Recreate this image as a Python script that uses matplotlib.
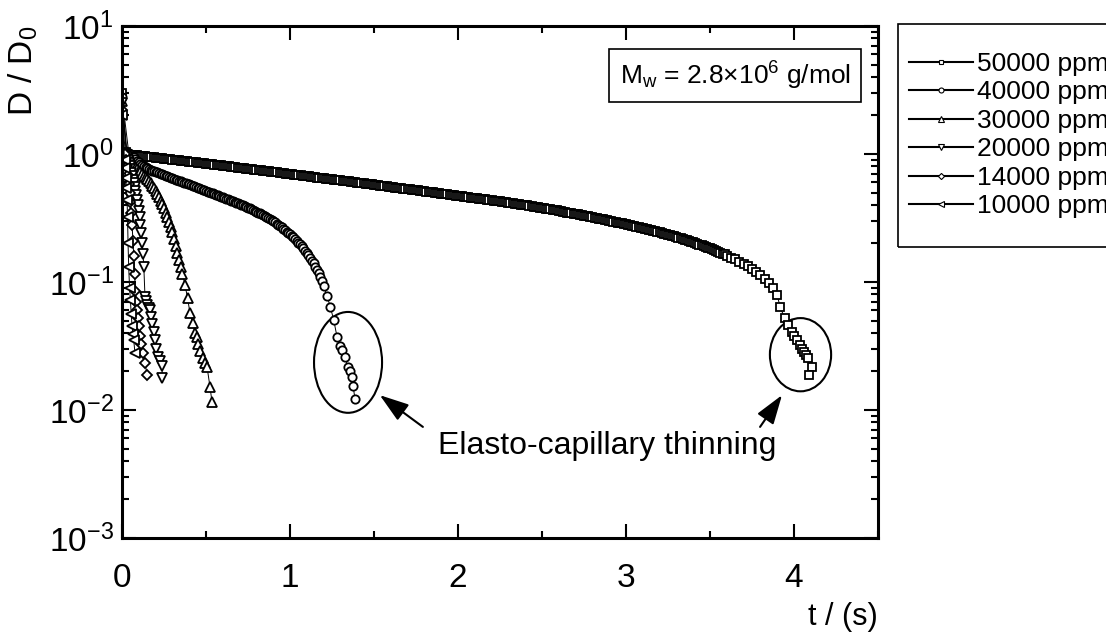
import matplotlib
matplotlib.use("Agg")
import matplotlib.pyplot as plt
from matplotlib.patches import Ellipse, Rectangle
from matplotlib.ticker import LogLocator, MultipleLocator

plt.rcParams["font.family"] = ["Liberation Sans", "DejaVu Sans"]
plt.rcParams["mathtext.fontset"] = "custom"
plt.rcParams["mathtext.rm"] = "Liberation Sans"
plt.rcParams["mathtext.it"] = "Liberation Sans:italic"
plt.rcParams["mathtext.bf"] = "Liberation Sans:bold"
plt.rcParams["axes.unicode_minus"] = False

# filament diameter D/D0 against time, one series per concentration
t_50000 = [
    0.0000, 0.0250,
    0.0500, 0.0625, 0.0750, 0.0875, 0.1000, 0.1125, 0.1250, 0.1375, 0.1500, 0.1625,
    0.1750, 0.1875, 0.2000, 0.2125, 0.2250, 0.2375, 0.2500, 0.2625, 0.2750, 0.2875,
    0.3000, 0.3125, 0.3250, 0.3375, 0.3500, 0.3625, 0.3750, 0.3875, 0.4000, 0.4125,
    0.4250, 0.4375, 0.4500, 0.4625, 0.4750, 0.4875, 0.5000, 0.5125, 0.5250, 0.5375,
    0.5500, 0.5625, 0.5750, 0.5875, 0.6000, 0.6125, 0.6250, 0.6375, 0.6500, 0.6625,
    0.6750, 0.6875, 0.7000, 0.7125, 0.7250, 0.7375, 0.7500, 0.7625, 0.7750, 0.7875,
    0.8000, 0.8125, 0.8250, 0.8375, 0.8500, 0.8625, 0.8750, 0.8875, 0.9000, 0.9125,
    0.9250, 0.9375, 0.9500, 0.9625, 0.9750, 0.9875, 1.0000, 1.0125, 1.0250, 1.0375,
    1.0500, 1.0625, 1.0750, 1.0875, 1.1000, 1.1125, 1.1250, 1.1375, 1.1500, 1.1625,
    1.1750, 1.1875, 1.2000, 1.2125, 1.2250, 1.2375, 1.2500, 1.2625, 1.2750, 1.2875,
    1.3000, 1.3125, 1.3250, 1.3375, 1.3500, 1.3625, 1.3750, 1.3875, 1.4000, 1.4125,
    1.4250, 1.4375, 1.4500, 1.4625, 1.4750, 1.4875, 1.5000, 1.5125, 1.5250, 1.5375,
    1.5500, 1.5625, 1.5750, 1.5875, 1.6000, 1.6125, 1.6250, 1.6375, 1.6500, 1.6625,
    1.6750, 1.6875, 1.7000, 1.7125, 1.7250, 1.7375, 1.7500, 1.7625, 1.7750, 1.7875,
    1.8000, 1.8125, 1.8250, 1.8375, 1.8500, 1.8625, 1.8750, 1.8875, 1.9000, 1.9125,
    1.9250, 1.9375, 1.9500, 1.9625, 1.9750, 1.9875, 2.0000, 2.0125, 2.0250, 2.0375,
    2.0500, 2.0625, 2.0750, 2.0875, 2.1000, 2.1125, 2.1250, 2.1375, 2.1500, 2.1625,
    2.1750, 2.1875, 2.2000, 2.2125, 2.2250, 2.2375, 2.2500, 2.2625, 2.2750, 2.2875,
    2.3000, 2.3125, 2.3250, 2.3375, 2.3500, 2.3625, 2.3750, 2.3875, 2.4000, 2.4125,
    2.4250, 2.4375, 2.4500, 2.4625, 2.4750, 2.4875, 2.5000, 2.5125, 2.5250, 2.5375,
    2.5500, 2.5625, 2.5750, 2.5875, 2.6000, 2.6125, 2.6250, 2.6375, 2.6500, 2.6625,
    2.6750, 2.6875, 2.7000, 2.7125, 2.7250, 2.7375, 2.7500, 2.7625, 2.7750, 2.7875,
    2.8000, 2.8125, 2.8250, 2.8375, 2.8500, 2.8625, 2.8750, 2.8875, 2.9000, 2.9125,
    2.9250, 2.9375, 2.9500, 2.9625, 2.9750, 2.9875, 3.0000, 3.0125, 3.0250, 3.0375,
    3.0500, 3.0625, 3.0750, 3.0875, 3.1000, 3.1125, 3.1250, 3.1375, 3.1500, 3.1625,
    3.1750, 3.1875, 3.2000, 3.2125, 3.2250, 3.2375, 3.2500, 3.2625, 3.2750, 3.2875,
    3.3000, 3.3125, 3.3250, 3.3375, 3.3500, 3.3625, 3.3750, 3.3875, 3.4000, 3.4125,
    3.4250, 3.4375, 3.4500, 3.4625, 3.4750, 3.4875, 3.5000, 3.5125, 3.5250, 3.5375,
    3.5500, 3.5625, 3.5750, 3.5875, 3.6000,
    3.625, 3.650, 3.675, 3.700, 3.725, 3.750, 3.775, 3.800, 3.825, 3.850,
    3.875, 3.900, 3.917, 3.945, 3.965, 3.986, 4.000, 4.016, 4.036, 4.048,
    4.060, 4.072, 4.085, 4.105, 4.090,
]
d_50000 = [
    3.000, 1.030,
    0.989, 0.985, 0.980, 0.976, 0.971, 0.967, 0.963, 0.959, 0.954, 0.950,
    0.945, 0.941, 0.937, 0.933, 0.928, 0.924, 0.920, 0.916, 0.912, 0.908,
    0.903, 0.899, 0.895, 0.891, 0.887, 0.883, 0.879, 0.875, 0.871, 0.867,
    0.863, 0.859, 0.855, 0.851, 0.847, 0.844, 0.840, 0.836, 0.832, 0.829,
    0.825, 0.821, 0.817, 0.814, 0.810, 0.806, 0.802, 0.799, 0.795, 0.792,
    0.788, 0.784, 0.780, 0.777, 0.773, 0.770, 0.766, 0.763, 0.759, 0.756,
    0.752, 0.749, 0.745, 0.742, 0.738, 0.735, 0.731, 0.728, 0.724, 0.721,
    0.717, 0.714, 0.710, 0.707, 0.703, 0.700, 0.697, 0.694, 0.690, 0.687,
    0.684, 0.681, 0.677, 0.674, 0.671, 0.668, 0.664, 0.661, 0.658, 0.655,
    0.652, 0.649, 0.645, 0.642, 0.639, 0.636, 0.633, 0.630, 0.627, 0.624,
    0.621, 0.619, 0.616, 0.613, 0.610, 0.607, 0.604, 0.601, 0.598, 0.595,
    0.592, 0.589, 0.586, 0.583, 0.580, 0.578, 0.575, 0.572, 0.569, 0.567,
    0.564, 0.561, 0.558, 0.556, 0.553, 0.550, 0.547, 0.545, 0.542, 0.540,
    0.537, 0.534, 0.531, 0.529, 0.526, 0.524, 0.521, 0.519, 0.516, 0.514,
    0.511, 0.509, 0.506, 0.504, 0.501, 0.499, 0.496, 0.494, 0.491, 0.489,
    0.486, 0.484, 0.481, 0.479, 0.476, 0.474, 0.471, 0.469, 0.467, 0.465,
    0.462, 0.460, 0.457, 0.455, 0.453, 0.451, 0.448, 0.446, 0.444, 0.442,
    0.440, 0.438, 0.435, 0.433, 0.430, 0.428, 0.426, 0.424, 0.421, 0.419,
    0.416, 0.414, 0.412, 0.410, 0.407, 0.405, 0.402, 0.400, 0.398, 0.396,
    0.393, 0.391, 0.388, 0.386, 0.383, 0.381, 0.379, 0.377, 0.374, 0.372,
    0.369, 0.367, 0.364, 0.362, 0.359, 0.357, 0.354, 0.352, 0.349, 0.347,
    0.344, 0.342, 0.339, 0.337, 0.335, 0.333, 0.330, 0.328, 0.325, 0.323,
    0.320, 0.318, 0.315, 0.313, 0.311, 0.309, 0.306, 0.304, 0.301, 0.299,
    0.296, 0.294, 0.291, 0.289, 0.287, 0.285, 0.282, 0.280, 0.277, 0.275,
    0.272, 0.270, 0.268, 0.266, 0.263, 0.261, 0.258, 0.256, 0.253, 0.251,
    0.249, 0.247, 0.244, 0.242, 0.239, 0.237, 0.234, 0.232, 0.229, 0.227,
    0.224, 0.222, 0.219, 0.217, 0.214, 0.212, 0.209, 0.207, 0.204, 0.202,
    0.199, 0.196, 0.193, 0.191, 0.188, 0.186, 0.183, 0.180, 0.177, 0.175,
    0.172, 0.169, 0.166, 0.164, 0.161,
    0.155, 0.150, 0.144, 0.138, 0.133, 0.127, 0.120, 0.114, 0.106, 0.098,
    0.089, 0.079, 0.064, 0.052, 0.046, 0.041, 0.038, 0.035, 0.032, 0.030,
    0.0286, 0.027, 0.0253, 0.0218, 0.0188,
]

t_40000 = [
    0.00,
    0.04, 0.05, 0.06, 0.07, 0.08, 0.09, 0.10, 0.11, 0.12, 0.13,
    0.14, 0.15, 0.16, 0.17, 0.18, 0.19, 0.20, 0.21, 0.22, 0.23,
    0.24, 0.25, 0.26, 0.27, 0.28, 0.29, 0.30, 0.31, 0.32, 0.33,
    0.34, 0.35, 0.36, 0.37, 0.38, 0.39, 0.40, 0.41, 0.42, 0.43,
    0.44, 0.45, 0.46, 0.47, 0.48, 0.49, 0.50, 0.51, 0.52, 0.53,
    0.54, 0.55, 0.56, 0.57, 0.58, 0.59, 0.60, 0.61, 0.62, 0.63,
    0.64, 0.65, 0.66, 0.67, 0.68, 0.69, 0.70, 0.71, 0.72, 0.73,
    0.74, 0.75, 0.76, 0.77, 0.78, 0.79, 0.80, 0.81, 0.82, 0.83,
    0.84, 0.85, 0.86, 0.87, 0.88, 0.89, 0.90, 0.91, 0.92, 0.93,
    0.94, 0.95, 0.96, 0.97, 0.98, 0.99, 1.00, 1.01, 1.02, 1.03,
    1.04, 1.05, 1.06, 1.07, 1.08, 1.09, 1.10, 1.11, 1.12, 1.13,
    1.14, 1.15, 1.16, 1.17, 1.18, 1.19, 1.20,
    1.22, 1.24, 1.26, 1.28, 1.30, 1.31, 1.327, 1.345, 1.355, 1.369,
    1.375, 1.387,
]
d_40000 = [
    2.800,
    1.023, 0.994, 0.966, 0.939, 0.912, 0.886, 0.861, 0.839, 0.817, 0.801,
    0.785, 0.773, 0.762, 0.752, 0.743, 0.734, 0.726, 0.718, 0.710, 0.701,
    0.693, 0.685, 0.678, 0.670, 0.662, 0.654, 0.647, 0.639, 0.632, 0.625,
    0.618, 0.611, 0.604, 0.597, 0.590, 0.584, 0.578, 0.571, 0.565, 0.558,
    0.552, 0.546, 0.540, 0.533, 0.527, 0.521, 0.515, 0.509, 0.504, 0.498,
    0.492, 0.486, 0.481, 0.475, 0.470, 0.464, 0.459, 0.454, 0.449, 0.444,
    0.439, 0.433, 0.428, 0.422, 0.417, 0.411, 0.406, 0.401, 0.396, 0.391,
    0.386, 0.381, 0.376, 0.371, 0.366, 0.360, 0.355, 0.349, 0.344, 0.338,
    0.333, 0.327, 0.321, 0.315, 0.310, 0.304, 0.298, 0.292, 0.286, 0.280,
    0.274, 0.267, 0.261, 0.254, 0.248, 0.242, 0.236, 0.229, 0.223, 0.216,
    0.210, 0.203, 0.197, 0.190, 0.183, 0.176, 0.169, 0.162, 0.155, 0.147,
    0.140, 0.132, 0.125, 0.117, 0.109, 0.101, 0.0935,
    0.0782, 0.0638, 0.0507, 0.0372, 0.0316, 0.0295, 0.0259, 0.0217, 0.0200, 0.0181,
    0.0155, 0.0122,
]

t_30000 = [
    0.000, 0.030, 0.035, 0.040, 0.045, 0.050, 0.055, 0.060, 0.065, 0.070,
    0.080, 0.090, 0.100, 0.110, 0.120, 0.130, 0.140, 0.150, 0.160, 0.170,
    0.180, 0.190, 0.200, 0.210, 0.220, 0.230, 0.240, 0.250, 0.260, 0.270,
    0.280, 0.290, 0.300, 0.310, 0.320, 0.330, 0.340, 0.350, 0.360, 0.375,
    0.390, 0.405, 0.420, 0.435, 0.446, 0.455, 0.464, 0.482, 0.494, 0.506,
    0.524, 0.536,
]
d_30000 = [
    2.600, 1.030, 1.000, 0.977, 0.945, 0.912, 0.880, 0.851, 0.830, 0.813,
    0.785, 0.762, 0.741, 0.721, 0.700, 0.679, 0.658, 0.635, 0.612, 0.589,
    0.565, 0.540, 0.513, 0.486, 0.459, 0.432, 0.404, 0.376, 0.348, 0.321,
    0.295, 0.270, 0.245, 0.216, 0.191, 0.168, 0.148, 0.130, 0.115, 0.095,
    0.075, 0.057, 0.048, 0.040, 0.037, 0.033, 0.029, 0.0256, 0.0235, 0.0218,
    0.0151, 0.0115,
]

t_20000 = [
    0.000, 0.030, 0.035, 0.040, 0.045, 0.050, 0.055, 0.060, 0.065, 0.070,
    0.075, 0.080, 0.085, 0.090, 0.095, 0.100, 0.105, 0.110, 0.115, 0.120,
    0.125, 0.130, 0.137, 0.143, 0.150, 0.158, 0.167, 0.174, 0.180, 0.188,
    0.196, 0.205, 0.214, 0.225, 0.238, 0.240,
]
d_20000 = [
    2.500, 0.950, 0.900, 0.850, 0.805, 0.760, 0.715, 0.670, 0.630, 0.590,
    0.550, 0.510, 0.475, 0.440, 0.400, 0.360, 0.320, 0.280, 0.240, 0.200,
    0.165, 0.130, 0.076, 0.071, 0.066, 0.063, 0.060, 0.053, 0.047, 0.041,
    0.035, 0.030, 0.026, 0.024, 0.022, 0.0178,
]

t_14000 = [0.000, 0.020, 0.025, 0.030, 0.035, 0.040, 0.045, 0.050, 0.055,
           0.060, 0.065, 0.070, 0.075, 0.080, 0.085, 0.090, 0.095, 0.100,
           0.107, 0.115, 0.125, 0.137, 0.149]
d_14000 = [2.200, 1.000, 0.900, 0.800, 0.690, 0.580, 0.500, 0.420, 0.345,
           0.280, 0.210, 0.160, 0.115, 0.085, 0.070, 0.060, 0.052, 0.045,
           0.038, 0.033, 0.028, 0.0235, 0.0188]

t_10000 = [0.000, 0.015, 0.018, 0.022, 0.026, 0.030, 0.033, 0.036, 0.040,
           0.045, 0.050, 0.055, 0.060, 0.065, 0.070, 0.077]
d_10000 = [2.000, 0.900, 0.780, 0.650, 0.540, 0.440, 0.320, 0.200, 0.130,
           0.090, 0.072, 0.056, 0.045, 0.039, 0.035, 0.028]

series = [
    ("50000 ppm", t_50000, d_50000, "s", 6.0),
    ("40000 ppm", t_40000, d_40000, "o", 6.0),
    ("30000 ppm", t_30000, d_30000, "^", 7.2),
    ("20000 ppm", t_20000, d_20000, "v", 7.2),
    ("14000 ppm", t_14000, d_14000, "D", 5.2),
    ("10000 ppm", t_10000, d_10000, "<", 7.2),
]

fig = plt.figure(figsize=(11.06, 6.32), dpi=100)
ax = fig.add_axes([122 / 1106, 1 - 538 / 632, 756 / 1106, 512 / 632])

for label, t, d, marker, ms in series:
    ax.plot(t, d, color="black", lw=0.7, marker=marker, ms=ms,
            mfc="white", mec="black", mew=1.3, label=label)

ax.set_yscale("log")
ax.set_xlim(0, 4.5)
ax.set_ylim(1e-3, 1e1)
ax.xaxis.set_major_locator(MultipleLocator(1))
ax.xaxis.set_minor_locator(MultipleLocator(0.5))
ax.yaxis.set_major_locator(LogLocator(base=10, numticks=10))
ax.yaxis.set_minor_locator(LogLocator(base=10, subs=range(2, 10), numticks=20))

for s in ax.spines.values():
    s.set_linewidth(2.2)
ax.tick_params(which="both", direction="in", top=True, right=True,
               labelsize=24, width=1.5)
ax.tick_params(which="major", length=10)
ax.tick_params(which="minor", length=5)
ax.tick_params(axis="x", pad=18)
ax.tick_params(axis="y", pad=6)

ax.set_xlabel("t / (s)", fontsize=22, loc="right", labelpad=6)
ax.set_ylabel(r"D / D$_\mathregular{0}$", fontsize=24, loc="top", labelpad=6)

ax.text(0.811, 0.903, r"M$_\mathregular{w}$ = 2.8×10$^\mathregular{6}$ g/mol",
        transform=ax.transAxes, fontsize=19, ha="center", va="center",
        bbox=dict(boxstyle="square,pad=0.4", fc="white", ec="black", lw=1.2))

# circles around the elasto-capillary tails
ax.add_patch(Ellipse((0.299, 0.343), 0.090, 0.197, transform=ax.transAxes,
                     fill=False, ec="black", lw=1.5))
ax.add_patch(Ellipse((0.8975, 0.358), 0.081, 0.143, transform=ax.transAxes,
                     fill=False, ec="black", lw=1.5))

ax.text(0.642, 0.18, "Elasto-capillary thinning", transform=ax.transAxes,
        fontsize=23, ha="center", va="center")
arrow = dict(arrowstyle="-|>,head_length=0.9,head_width=0.3", color="black",
             lw=1.5, shrinkA=0, shrinkB=0, mutation_scale=20)
ax.annotate("", xy=(0.341, 0.279), xytext=(0.398, 0.217),
            xycoords="axes fraction", arrowprops=arrow)
ax.annotate("", xy=(0.873, 0.279), xytext=(0.844, 0.217),
            xycoords="axes fraction", arrowprops=arrow)

# legend sits outside the axes, in its own frame that runs off the right edge
fig.patches.append(Rectangle((898 / 1106, 1 - 247 / 632), 0.3, 223 / 632,
                             transform=fig.transFigure, fill=False,
                             ec="black", lw=1.2))
leg = fig.legend(loc="upper left", bbox_to_anchor=(909 / 1106, 1 - 52 / 632),
                 fontsize=19, frameon=False, handlelength=2.42,
                 handletextpad=0.15, labelspacing=0.17, borderpad=0,
                 borderaxespad=0, markerscale=0.6)
for h in leg.legend_handles:
    h.set_linewidth(1.5)
    h.set_markeredgewidth(0.8)

fig.savefig("out.png", dpi=100)
